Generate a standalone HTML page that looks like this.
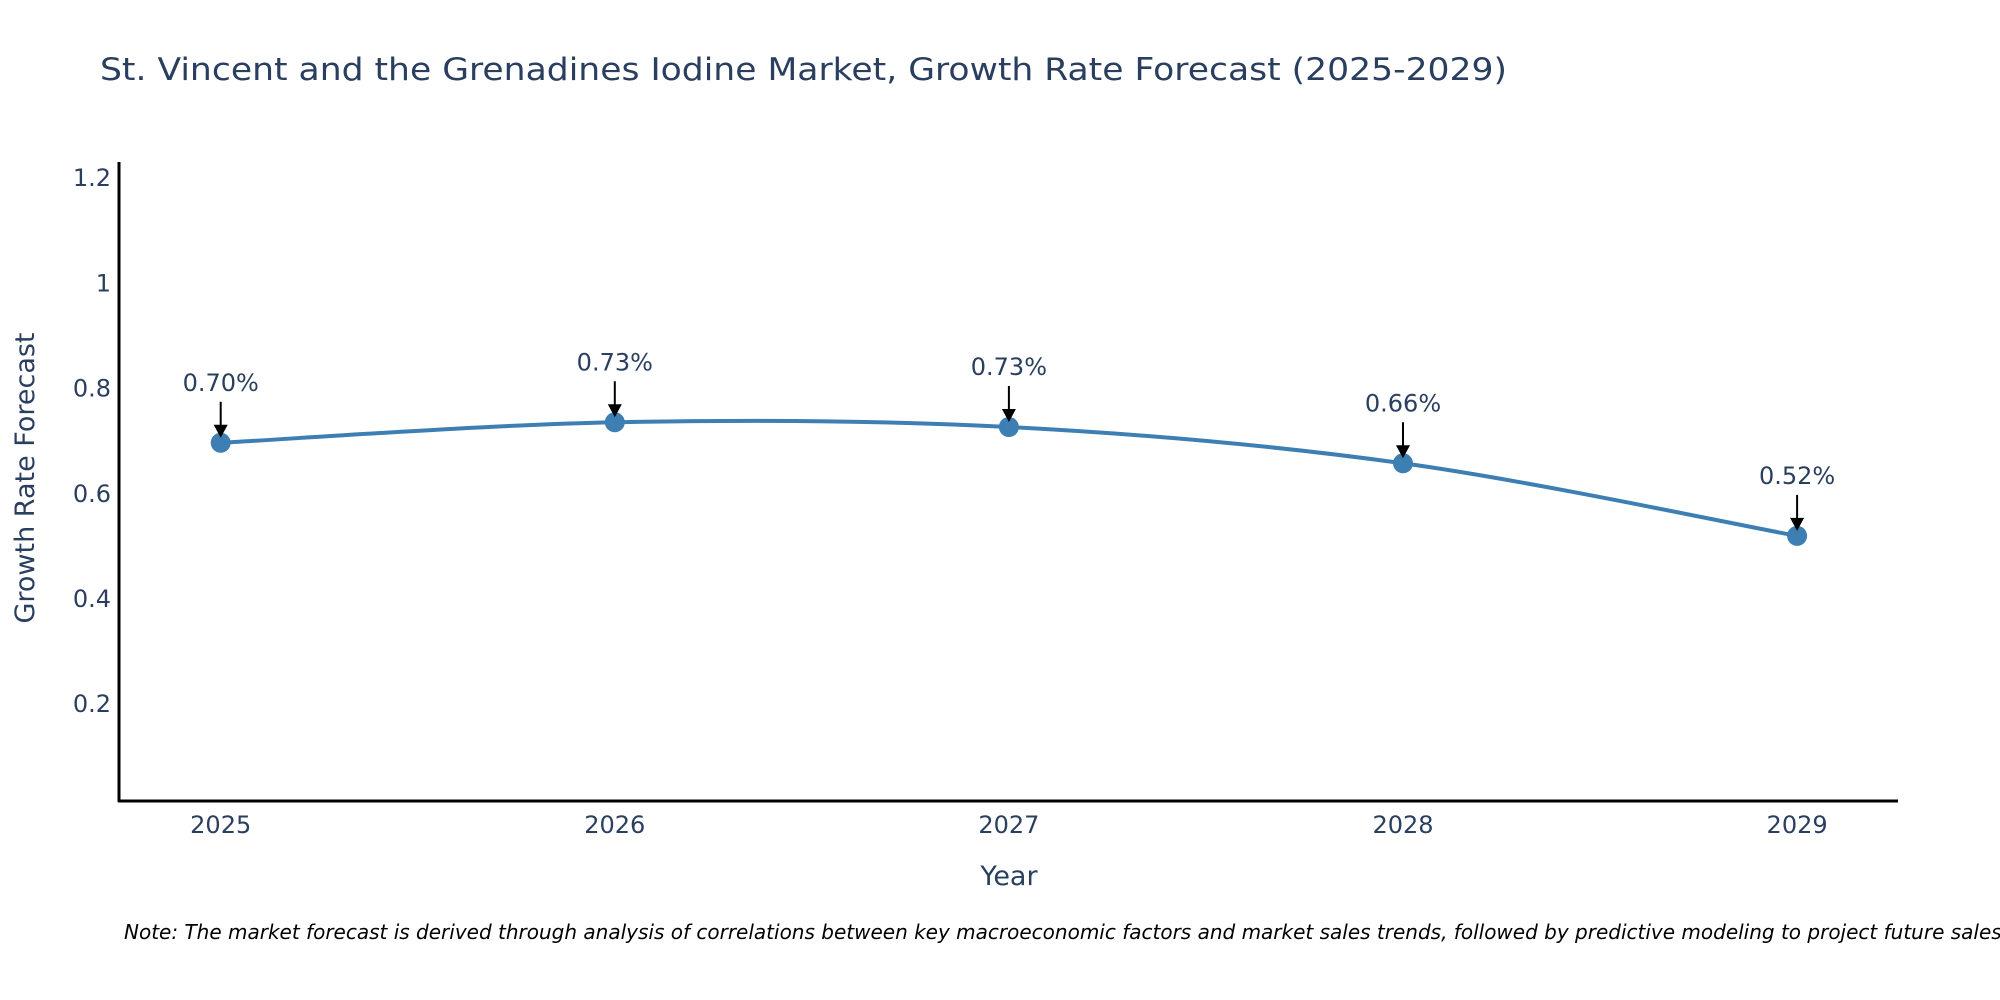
<!DOCTYPE html>
<html><head><meta charset="utf-8"><style>
html,body{margin:0;padding:0;background:#fff;}
svg{display:block;font-family:"DejaVu Sans","Liberation Sans",sans-serif;}
</style></head><body>
<svg id="chart" width="2000" height="1000" viewBox="0 0 2000 1000">
<text x="100" y="80" font-size="31" fill="#2a3f5f" textLength="1407" lengthAdjust="spacingAndGlyphs">St. Vincent and the Grenadines Iodine Market, Growth Rate Forecast (2025-2029)</text>
<g id="yticks"></g>
<g id="xticks"></g>
<line x1="119" y1="162" x2="119" y2="802" stroke="#000" stroke-width="3"/>
<line x1="118" y1="801" x2="1898" y2="801" stroke="#000" stroke-width="3"/>
<text transform="translate(34,478) rotate(-90)" text-anchor="middle" font-size="27" fill="#2a3f5f">Growth Rate Forecast</text>
<text x="1009" y="885" text-anchor="middle" font-size="27" fill="#2a3f5f">Year</text>
<path id="curve" fill="none" stroke="#3d7fb3" stroke-width="4"/>
<g id="marks"></g>
<text x="124" y="939" font-size="20" font-style="italic" fill="#000">Note: The market forecast is derived through analysis of correlations between key macroeconomic factors and market sales trends, followed by predictive modeling to project future sales.</text>
</svg>
<script>
const years = [2025, 2026, 2027, 2028, 2029];
const growth = [0.697, 0.736, 0.727, 0.658, 0.520];
const labels = ["0.70%", "0.73%", "0.73%", "0.66%", "0.52%"];
const yTickValues = [0.2, 0.4, 0.6, 0.8, 1, 1.2];
const yTickLabels = ["0.2", "0.4", "0.6", "0.8", "1", "1.2"];

const NS = "http://www.w3.org/2000/svg";
function xScale(yr){ return 220.7 + (yr - 2025) * 394.1; }
function yScale(v){ return 809.4 - v * 526; }
function mk(tag, attrs, parent){ const e = document.createElementNS(NS, tag); for (const k in attrs) e.setAttribute(k, attrs[k]); parent.appendChild(e); return e; }

const yt = document.getElementById('yticks');
yTickValues.forEach((v, i) => {
  const t = mk('text', {x: 111, y: yScale(v) + 8, 'text-anchor': 'end', 'font-size': 24, fill: '#2a3f5f'}, yt);
  
  
  t.textContent = yTickLabels[i];
});
const xt = document.getElementById('xticks');
years.forEach(yr => {
  const t = mk('text', {x: xScale(yr), y: 833, 'text-anchor': 'middle', 'font-size': 24, fill: '#2a3f5f'}, xt);
  
  
  t.textContent = String(yr);
});

const pts = years.map((yr, i) => [xScale(yr), yScale(growth[i])]);
let d = 'M' + pts[0][0] + ',' + pts[0][1];
const tension = 0.5 / 3 * 2;
for (let i = 0; i < pts.length - 1; i++) {
  const p0 = pts[Math.max(0, i - 1)], p1 = pts[i], p2 = pts[i + 1], p3 = pts[Math.min(pts.length - 1, i + 2)];
  const c1 = [p1[0] + (p2[0] - p0[0]) * tension / 2, p1[1] + (p2[1] - p0[1]) * tension / 2];
  const c2 = [p2[0] - (p3[0] - p1[0]) * tension / 2, p2[1] - (p3[1] - p1[1]) * tension / 2];
  d += ' C' + c1[0] + ',' + c1[1] + ' ' + c2[0] + ',' + c2[1] + ' ' + p2[0] + ',' + p2[1];
}
document.getElementById('curve').setAttribute('d', d);

const mg = document.getElementById('marks');
pts.forEach((p, i) => {
  const c = mk('circle', {cx: p[0], cy: p[1], r: 10, fill: '#3d7fb3'}, mg);
  
  
  const ln = mk('line', {x1: p[0], y1: p[1] - 41, x2: p[0], y2: p[1] - 16, stroke: '#000', 'stroke-width': 2}, mg);
  
  
  const ah = mk('path', {d: `M${p[0]-7},${p[1]-18} L${p[0]+7},${p[1]-18} L${p[0]},${p[1]-5} Z`, fill: '#000'}, mg);
  
  
  const t = mk('text', {x: p[0], y: p[1] - 52, 'text-anchor': 'middle', 'font-size': 24, fill: '#2a3f5f'}, mg);
  
  
  t.textContent = labels[i];
});
</script>
</body></html>
